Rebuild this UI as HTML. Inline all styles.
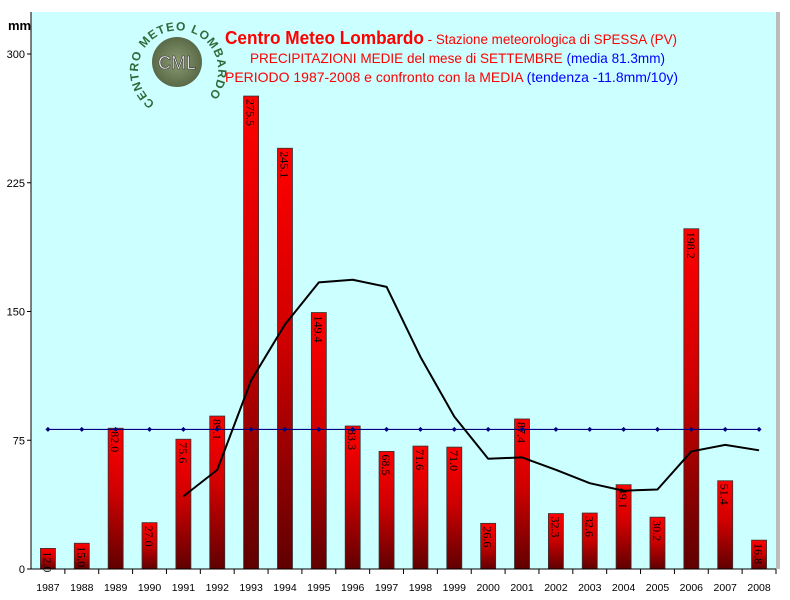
<!DOCTYPE html>
<html><head><meta charset="utf-8"><style>
html,body{margin:0;padding:0;background:#fff;}
svg{display:block;font-family:"Liberation Sans","DejaVu Sans",sans-serif;}
</style></head><body>
<svg id="chart" width="790" height="600" viewBox="0 0 790 600">
<defs>
<linearGradient id="barg" x1="0" y1="0" x2="0" y2="1">
<stop offset="0" stop-color="#ff0000"/><stop offset="0.45" stop-color="#d00000"/><stop offset="1" stop-color="#600000"/>
</linearGradient>
<radialGradient id="logog" cx="0.5" cy="0.5" r="0.5">
<stop offset="0" stop-color="#8a9a70"/><stop offset="1" stop-color="#5a6a48"/>
</radialGradient>
</defs>
<rect x="776" y="12" width="4" height="557" fill="#bbb"/>
<rect x="31" y="12" width="745" height="557" fill="#ccffff"/>
<g id="grid"></g>
<g id="bars"></g>
<g id="lines"></g>
<g id="axes"></g>
<text x="8" y="30" font-size="13" font-weight="bold" fill="#000">mm</text>
<g>
<circle cx="177" cy="62" r="25" fill="url(#logog)"/>
<text x="177" y="69" font-size="18" fill="#fff" text-anchor="middle" stroke="#333" stroke-width="0.6">CML</text>
<path id="ring" d="M 155 103 A 40 40 0 1 1 205 100" fill="none"/>
<text font-size="12" font-weight="bold" fill="#2d6b3a" letter-spacing="1"><textPath href="#ring">CENTRO METEO LOMBARDO</textPath></text>
</g>
<g>
<text x="225" y="44" font-size="14" fill="#ff0000" textLength="452" lengthAdjust="spacingAndGlyphs"><tspan font-size="18" font-weight="bold">Centro Meteo Lombardo</tspan> - Stazione meteorologica di SPESSA (PV)</text>
<text x="250" y="63" font-size="14" fill="#ff0000" textLength="415" lengthAdjust="spacingAndGlyphs">PRECIPITAZIONI MEDIE del mese di SETTEMBRE <tspan fill="#0000ff">(media 81.3mm)</tspan></text>
<text x="225" y="82" font-size="14" fill="#ff0000" textLength="453" lengthAdjust="spacingAndGlyphs">PERIODO 1987-2008 e confronto con la MEDIA  <tspan fill="#0000ff">(tendenza -11.8mm/10y)</tspan></text>
</g>
</svg>
<script>
const years = ["1987","1988","1989","1990","1991","1992","1993","1994","1995","1996","1997","1998","1999","2000","2001","2002","2003","2004","2005","2006","2007","2008"];
const rain = [12.0,15.0,82.0,27.0,75.6,89.1,275.5,245.1,149.4,83.3,68.5,71.6,71.0,26.6,87.4,32.3,32.6,49.1,30.2,198.2,51.4,16.8];
const meanValue = 81.3;
const yTicks = [0,75,150,225,300];
const maWindow = 5;

const NS = "http://www.w3.org/2000/svg";
const X0 = 31, X1 = 776, Y0 = 569;
const step = (X1 - X0) / years.length;
const xc = i => X0 + step * (i + 0.5);
const yv = v => Y0 - v * (569 - 54) / 300;
function mk(tag, attrs, parent) {
  const e = document.createElementNS(NS, tag);
  for (const k in attrs) e.setAttribute(k, attrs[k]);
  parent.appendChild(e);
  return e;
}
const gBars = document.getElementById("bars");
const gLines = document.getElementById("lines");
const gAxes = document.getElementById("axes");

rain.forEach((v, i) => {
  const r = mk("rect", {x: xc(i) - 7.5, y: yv(v), width: 15, height: Y0 - yv(v), fill: "url(#barg)", stroke: "#333", "stroke-width": 0.8}, gBars);
  
  
  const t = mk("text", {x: 0, y: 0, "font-size": 12, fill: "#000", "font-family": "Liberation Serif, serif",
    transform: `translate(${xc(i) - 4.5},${yv(v) + 3}) rotate(90)`}, gBars);
  t.textContent = v.toFixed(1);
  
  
});

// mean line
let mp = years.map((_, i) => `${i ? "L" : "M"}${xc(i)},${yv(meanValue)}`).join(" ");
const ml = mk("path", {d: mp, stroke: "#000080", "stroke-width": 1.2, fill: "none"}, gLines);


years.forEach((_, i) => {
  const d = mk("path", {d: `M${xc(i)-2.5},${yv(meanValue)} L${xc(i)},${yv(meanValue)-2.5} L${xc(i)+2.5},${yv(meanValue)} L${xc(i)},${yv(meanValue)+2.5}Z`, fill: "#000080"}, gLines);
  
  
});

// moving average
const pts = [];
for (let i = maWindow - 1; i < rain.length; i++) {
  let s = 0; for (let k = 0; k < maWindow; k++) s += rain[i - k];
  pts.push([xc(i), yv(s / maWindow)]);
}
const mav = mk("path", {d: pts.map((p, i) => (i ? "L" : "M") + p[0] + "," + p[1]).join(" "), stroke: "#000", "stroke-width": 2, fill: "none", "stroke-linejoin": "round"}, gLines);



// axes
const ya = mk("line", {x1: X0, y1: 12, x2: X0, y2: Y0, stroke: "#000", "stroke-width": 1}, gAxes);


const xa = mk("line", {x1: X0, y1: Y0, x2: X1, y2: Y0, stroke: "#000", "stroke-width": 1}, gAxes);


yTicks.forEach(t => {
  mk("line", {x1: X0 - 4, y1: yv(t), x2: X0, y2: yv(t), stroke: "#000"}, gAxes);
  const l = mk("text", {x: X0 - 6, y: yv(t) + 4, "font-size": 11, "text-anchor": "end", fill: "#000"}, gAxes);
  l.textContent = t;
  
  
});
years.forEach((y, i) => {
  mk("line", {x1: X0 + step * (i + 1), y1: Y0, x2: X0 + step * (i + 1), y2: Y0 + 5, stroke: "#000"}, gAxes);
  const l = mk("text", {x: xc(i), y: 591, "font-size": 10.5, "text-anchor": "middle", fill: "#000"}, gAxes);
  l.textContent = y;
  
  
});
</script>
</body></html>
